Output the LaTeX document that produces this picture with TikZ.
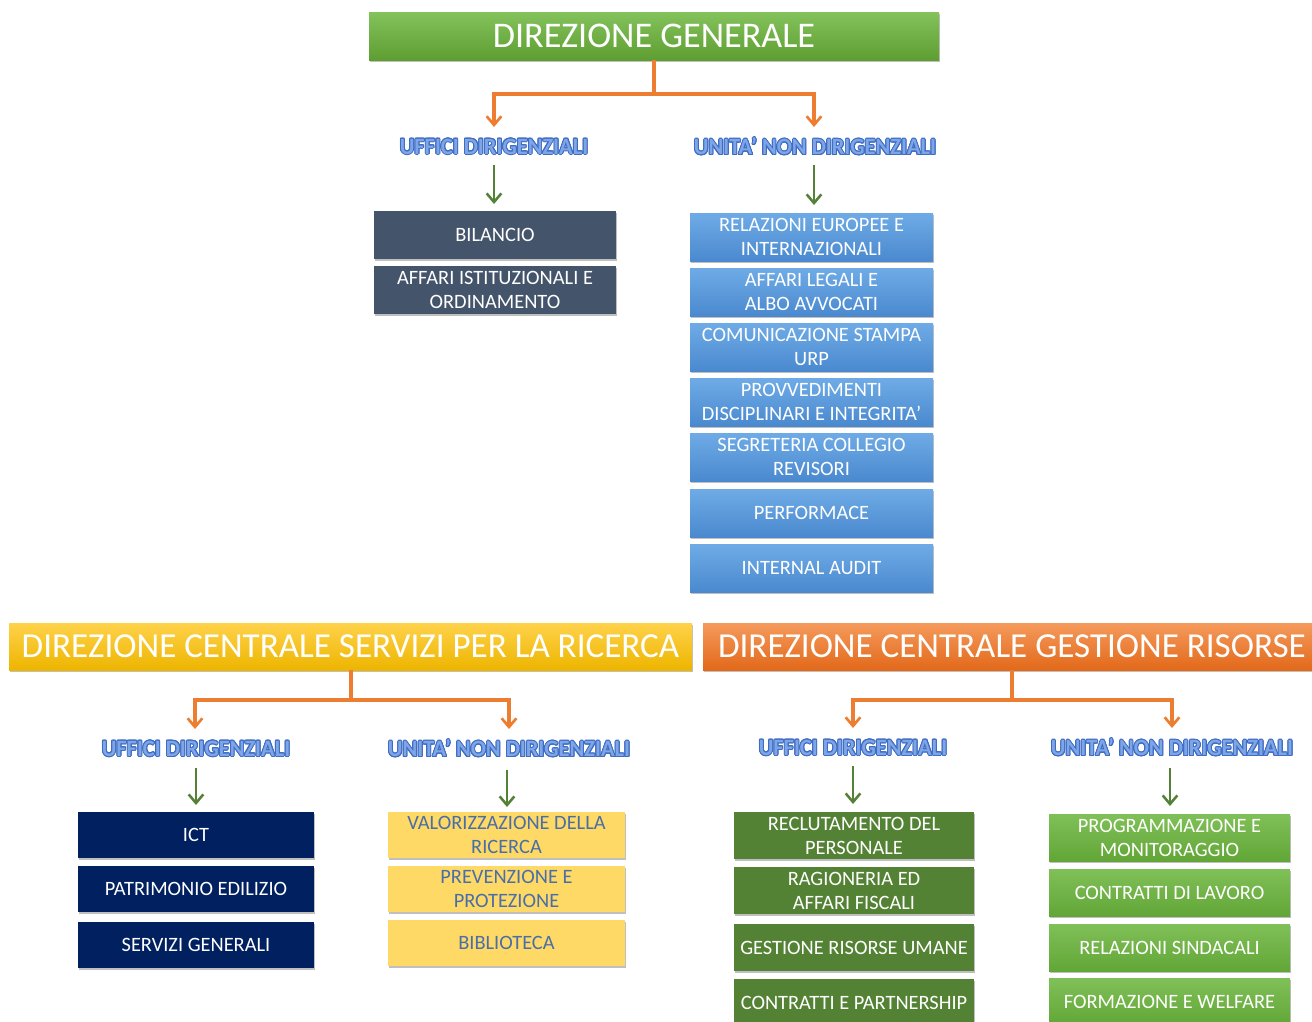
\documentclass[tikz,border=0pt]{standalone}
\usepackage{fontspec}
\setmainfont{Carlito}
\usepackage{graphicx}
\usepackage[copies]{contour}
\usetikzlibrary{arrows.meta,shadows}
\definecolor{dgtop}{HTML}{84C25C}
\definecolor{dgbot}{HTML}{5E9E31}
\definecolor{slate}{HTML}{44546A}
\definecolor{bltop}{HTML}{6EABE6}
\definecolor{blbot}{HTML}{4A89CF}
\definecolor{yltop}{HTML}{FFD24A}
\definecolor{ylbot}{HTML}{EDB500}
\definecolor{ortop}{HTML}{F59A5C}
\definecolor{orbot}{HTML}{E2691A}
\definecolor{navy}{HTML}{002060}
\definecolor{pale}{HTML}{FFD966}
\definecolor{paletext}{HTML}{4A6EA8}
\definecolor{dkgreen}{HTML}{548235}
\definecolor{lgtop}{HTML}{80C058}
\definecolor{lgbot}{HTML}{62A637}
\definecolor{orline}{HTML}{ED7D31}
\definecolor{grline}{HTML}{538135}
\definecolor{lblfill}{HTML}{7EA6E6}
\definecolor{lbledge}{HTML}{3F6CC4}
\contourlength{0.75pt}
\newcommand{\lbl}[1]{\scalebox{0.96}[1]{\contour{lbledge}{\textcolor{lblfill}{#1}}}}
\begin{document}
\begin{tikzpicture}[x=0.75pt,y=-0.75pt,
  shd/.style={drop shadow={shadow xshift=0.6pt,shadow yshift=-1.8pt,opacity=0.45,fill=black!55}},
  bx/.style={shd,inner sep=0pt,align=center,text=white,font=\fontsize{15.3pt}{18pt}\selectfont},
  hdr/.style={shd,inner sep=0pt,align=center,text=white,minimum height=47*0.75pt,font=\fontsize{26.3pt}{30pt}\selectfont},
  dgbox/.style={hdr,top color=dgtop,bottom color=dgbot,minimum width=570*0.75pt,minimum height=48*0.75pt,font=\fontsize{27.1pt}{30pt}\selectfont},
  ylhdr/.style={hdr,top color=yltop,bottom color=ylbot,minimum width=683*0.75pt},
  orhdr/.style={hdr,top color=ortop,bottom color=orbot,minimum width=618*0.75pt},
  slbox/.style={bx,fill=slate,minimum width=242*0.75pt,minimum height=48*0.75pt},
  blbox/.style={bx,top color=bltop,bottom color=blbot,minimum width=243*0.75pt,minimum height=48*0.75pt},
  nvbox/.style={bx,fill=navy,minimum width=236*0.75pt,minimum height=46*0.75pt},
  plbox/.style={bx,fill=pale,text=paletext,minimum width=237*0.75pt,minimum height=46*0.75pt},
  dkbox/.style={bx,fill=dkgreen,minimum width=240*0.75pt,minimum height=47*0.75pt},
  lgbox/.style={bx,top color=lgtop,bottom color=lgbot,minimum width=241*0.75pt,minimum height=47*0.75pt},
  lab/.style={inner sep=0pt,font=\fontsize{17.5pt}{20pt}\selectfont\bfseries},
  oarr/.style={draw=orline,line width=2.3pt,-{Straight Barb[length=6.5pt,width=11pt,line width=2pt]}},
  garr/.style={draw=grline,line width=2.1pt,-{Straight Barb[length=6.5pt,width=11pt,line width=1.9pt]}}
]
\clip (0,0) rectangle (1312,1021);
\fill[white] (0,0) rectangle (1312,1021);

% ---- Direzione Generale ----
\node[dgbox] (dg) at (654,36) {DIREZIONE GENERALE};
\node[lab] (ud1) at (494,147) {\lbl{UFFICI DIRIGENZIALI}};
\node[lab] (und1) at (815,147) {\lbl{UNITA’ NON DIRIGENZIALI}};
\coordinate (j1) at (654,94);
\coordinate (a1) at (494,127);
\coordinate (a2) at (814,127);
\draw[oarr] (dg.south) -- (j1) -| (a1);
\draw[oarr] (j1) -| (a2);

\node[slbox] (bil) at (495,235) {BILANCIO};
\node[slbox] (aff) at (495,290) {AFFARI ISTITUZIONALI E\\ORDINAMENTO};

\node[blbox] (r1) at (811.5,237) {RELAZIONI EUROPEE E\\INTERNAZIONALI};
\node[blbox] (r2) at (811.5,292) {AFFARI LEGALI E\\ALBO AVVOCATI};
\node[blbox] (r3) at (811.5,347) {COMUNICAZIONE STAMPA\\URP};
\node[blbox] (r4) at (811.5,402) {PROVVEDIMENTI\\DISCIPLINARI E INTEGRITA’};
\node[blbox] (r5) at (811.5,457) {SEGRETERIA COLLEGIO\\REVISORI};
\node[blbox] (r6) at (811.5,513) {PERFORMACE};
\node[blbox] (r7) at (811.5,568) {INTERNAL AUDIT};

\coordinate (g1s) at (494,165);
\coordinate (g1e) at (494,204);
\coordinate (g2s) at (814,165);
\coordinate (g2e) at (814,205);
\draw[garr] (g1s) -- (g1e);
\draw[garr] (g2s) -- (g2e);

% ---- Direzione Centrale Servizi per la Ricerca ----
\node[ylhdr] (dcsr) at (350.5,646.5) {DIREZIONE CENTRALE SERVIZI PER LA RICERCA};
\node[lab] (ud2) at (196,749) {\lbl{UFFICI DIRIGENZIALI}};
\node[lab] (und2) at (509,749) {\lbl{UNITA’ NON DIRIGENZIALI}};
\coordinate (j2) at (351,700);
\coordinate (a3) at (195,729);
\coordinate (a4) at (509,729);
\draw[oarr] (351,670) -- (j2) -| (a3);
\draw[oarr] (j2) -| (a4);
\coordinate (g3s) at (196,768);
\coordinate (g3e) at (196,805);
\coordinate (g4s) at (507,770);
\coordinate (g4e) at (507,807);
\draw[garr] (g3s) -- (g3e);
\draw[garr] (g4s) -- (g4e);

\node[nvbox] (n1) at (196,835) {ICT};
\node[nvbox] (n2) at (196,889) {PATRIMONIO EDILIZIO};
\node[nvbox] (n3) at (196,945) {SERVIZI GENERALI};

\node[plbox] (p1) at (506.5,835) {VALORIZZAZIONE DELLA\\RICERCA};
\node[plbox] (p2) at (506.5,889) {PREVENZIONE E\\PROTEZIONE};
\node[plbox] (p3) at (506.5,943) {BIBLIOTECA};

% ---- Direzione Centrale Gestione Risorse ----
\node[orhdr] (dcgr) at (1012,646.5) {DIREZIONE CENTRALE GESTIONE RISORSE};
\node[lab] (ud3) at (853,748) {\lbl{UFFICI DIRIGENZIALI}};
\node[lab] (und3) at (1172,748) {\lbl{UNITA’ NON DIRIGENZIALI}};
\coordinate (j3) at (1012,700);
\coordinate (a5) at (853,728);
\coordinate (a6) at (1172,728);
\draw[oarr] (dcgr.south) -- (j3) -| (a5);
\draw[oarr] (j3) -| (a6);
\coordinate (g5s) at (853,766);
\coordinate (g5e) at (853,804);
\coordinate (g6s) at (1170,768);
\coordinate (g6e) at (1170,806);
\draw[garr] (g5s) -- (g5e);
\draw[garr] (g6s) -- (g6e);

\node[dkbox] (d1) at (854,835.5) {RECLUTAMENTO DEL\\PERSONALE};
\node[dkbox] (d2) at (854,890.5) {RAGIONERIA ED\\AFFARI FISCALI};
\node[dkbox] (d3) at (854,947.5) {GESTIONE RISORSE UMANE};
\node[dkbox] (d4) at (854,1002.5) {CONTRATTI E PARTNERSHIP};

\node[lgbox] (l1) at (1169.5,837.5) {PROGRAMMAZIONE E\\MONITORAGGIO};
\node[lgbox] (l2) at (1169.5,892.5) {CONTRATTI DI LAVORO};
\node[lgbox] (l3) at (1169.5,947.5) {RELAZIONI SINDACALI};
\node[lgbox] (l4) at (1169.5,1001.5) {FORMAZIONE E WELFARE};
\end{tikzpicture}
\end{document}
